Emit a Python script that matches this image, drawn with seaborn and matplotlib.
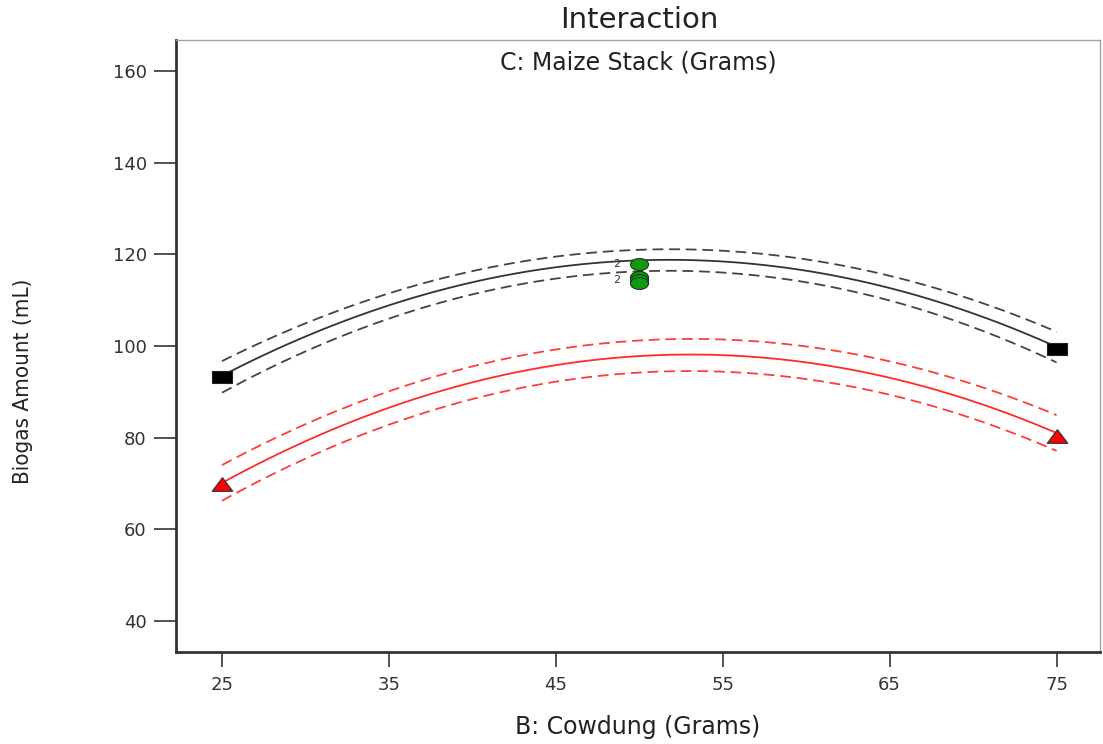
import numpy as np
import pandas as pd
import seaborn as sns
import matplotlib.pyplot as plt
from matplotlib.markers import MarkerStyle
from matplotlib.transforms import Affine2D

# B: Cowdung levels (x axis)
cowdung = [25, 50, 75]

# predicted response and 95% CI bands
black_fit = [93.5, 118.7, 99.8]
black_upper = [96.7, 121.0, 103.1]
black_lower = [89.8, 116.3, 96.4]
red_fit = [70.1, 97.8, 81.0]
red_upper = [74.0, 101.2, 84.9]
red_lower = [66.2, 94.2, 77.1]

# design points
black_x = [25, 75]
black_y = [93.2, 99.3]
red_x = [25, 75]
red_y = [69.9, 80.4]
center_x = [50, 50, 50, 50]
center_y = [117.9, 115.1, 114.4, 113.7]
center_count = ["2", "", "2", ""]

xticks = [25, 35, 45, 55, 65, 75]
yticks = [40, 60, 80, 100, 120, 140, 160]

sns.set_style("ticks")
plt.rcParams['font.family'] = ['DejaVu Sans']

fig = plt.figure(figsize=(11.03, 7.44), dpi=100)
ax = fig.add_axes([0.1596, 0.1237, 0.8377, 0.8225])

# model lines (quadratic in B)
lines = [
    (black_fit, '#333333', '-'),
    (black_upper, '#444444', '--'),
    (black_lower, '#444444', '--'),
    (red_fit, '#ff2a2a', '-'),
    (red_upper, '#ff3b3b', '--'),
    (red_lower, '#ff3b3b', '--'),
]
for vals, col, ls in lines:
    kws = {'lw': 1.3, 'ls': ls}
    if ls == '--':
        kws['dashes'] = (6, 3.2)
    sns.regplot(x=cowdung, y=vals, order=2, ci=None, scatter=False,
                truncate=True, color=col, line_kws=kws, ax=ax)

# stretched markers like the original export
sq = MarkerStyle('s', transform=Affine2D().scale(1.65, 1))
tri = MarkerStyle('^', transform=Affine2D().scale(1.5, 1))
circ = MarkerStyle('o', transform=Affine2D().scale(1.5, 1))

sns.scatterplot(x=black_x, y=black_y, marker=sq, s=75, color='black',
                edgecolor='#222222', linewidth=0.8, ax=ax, zorder=4)
sns.scatterplot(x=red_x, y=red_y, marker=tri, s=95, color='#ff0000',
                edgecolor='#333333', linewidth=0.9, ax=ax, zorder=4)
sns.scatterplot(x=center_x, y=center_y, marker=circ, s=75, color='#119911',
                edgecolor='#1a3a1a', linewidth=0.8, ax=ax, zorder=4)
for xv, yv, lab in zip(center_x, center_y, center_count):
    if lab:
        ax.annotate(lab, (xv, yv), xytext=(-16, 0), textcoords='offset points',
                    fontsize=8, color='#333333', ha='center', va='center')

ax.set_xlim(22.25, 77.6)
ax.set_ylim(33.2, 166.8)
ax.set_xticks(xticks)
ax.set_yticks(yticks)
ax.tick_params(axis='y', length=16, width=1.3, color='#444444',
               labelsize=13, pad=5, labelcolor='#333333')
ax.tick_params(axis='x', length=11, width=1.3, color='#444444',
               labelsize=13, pad=6, labelcolor='#333333')

for side in ['left', 'bottom']:
    ax.spines[side].set_linewidth(2)
    ax.spines[side].set_color('#333333')
for side in ['top', 'right']:
    ax.spines[side].set_linewidth(1)
    ax.spines[side].set_color('#a0a0a0')

ax.set_xlabel("B: Cowdung (Grams)", fontsize=17, color='#222222', va='center')
ax.xaxis.set_label_coords(0.5, -0.1225)
ax.set_ylabel("Biogas Amount (mL)", fontsize=16, color='#222222', va='center',
              fontstretch='condensed')
ax.yaxis.set_label_coords(-0.1656, 0.443)

ax.text(0.5, 0.964, "C: Maize Stack (Grams)", transform=ax.transAxes,
        fontsize=17, color='#222222', ha='center', va='center')
fig.text(639 / 1103, 1 - 20 / 744, "Interaction", fontsize=21,
         color='#222222', ha='center', va='center')

fig.savefig("out.png", dpi=100)
